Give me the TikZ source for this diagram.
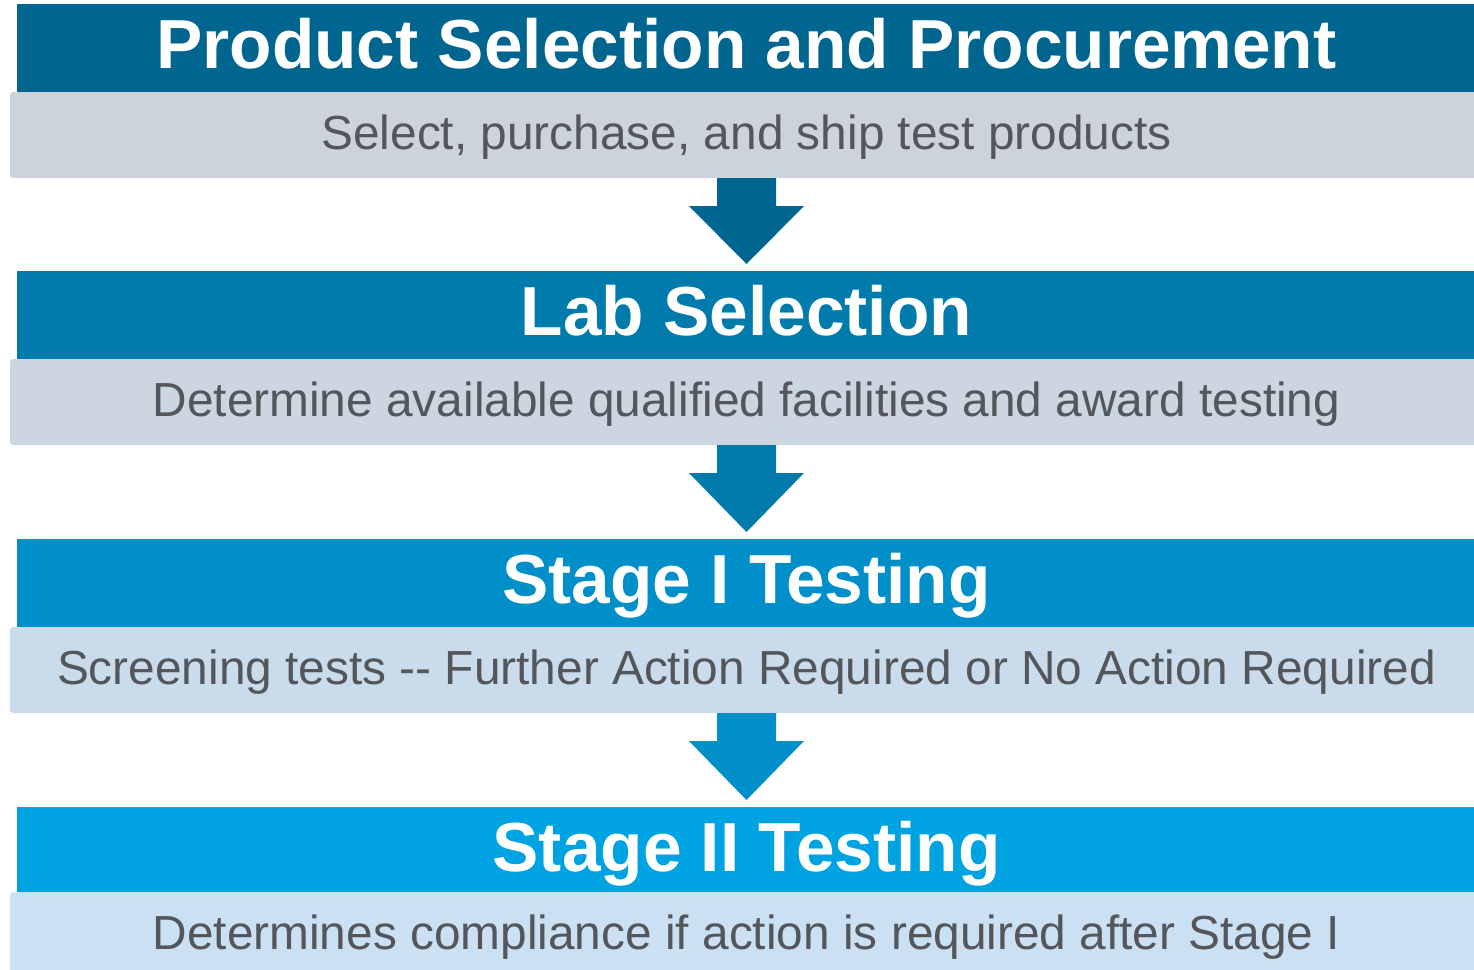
\documentclass[tikz,border=0pt]{standalone}
\usepackage{fontspec}
\setmainfont{Liberation Sans}
\usetikzlibrary{positioning}

\definecolor{headA}{RGB}{0,102,143}
\definecolor{headB}{RGB}{0,123,172}
\definecolor{headC}{RGB}{0,143,201}
\definecolor{headD}{RGB}{0,163,225}
\definecolor{subA}{RGB}{204,211,220}
\definecolor{subB}{RGB}{203,214,225}
\definecolor{subC}{RGB}{202,219,236}
\definecolor{subD}{RGB}{204,224,244}
\definecolor{subtext}{RGB}{83,86,90}

\tikzset{
	header/.style={fill=#1, text=white, inner xsep=0pt, inner ysep=0pt,
		outer sep=0pt, minimum width=729.5pt, text height=32pt, text depth=12pt,
		font=\fontsize{34.7}{40}\selectfont\bfseries},
	subbox/.style={fill=#1, text=subtext, inner xsep=0pt, inner ysep=0pt,
		outer sep=0pt, rounded corners=1.5pt, minimum width=736.5pt,
		text height=28.5pt, text depth=14.5pt,
		font=\fontsize{23.9}{28}\selectfont},
}

\begin{document}
\begin{tikzpicture}[x=0.5pt,y=-0.5pt]
\useasboundingbox (0,0) rectangle (1474,970);

% stage boxes
\node[header=headA] (procure) at (746.5,48) {Product Selection and Procurement};
\node[subbox=subA, below=0pt of procure] (procuresub) {Select, purchase, and ship test products};

\node[header=headB, below=46.5pt of procuresub] (lab) {Lab Selection};
\node[subbox=subB, below=0pt of lab] (labsub) {Determine available qualified facilities and award testing};

\node[header=headC, below=47pt of labsub] (stageone) {Stage I Testing};
\node[subbox=subC, below=0pt of stageone] (stageonesub) {Screening tests -{}- Further Action Required or No Action Required};

\node[header=headD, text depth=10.5pt, below=47pt of stageonesub] (stagetwo) {Stage II Testing};
\node[subbox=subD, below=0pt of stagetwo] (stagetwosub) {Determines compliance if action is required after Stage I};

% block arrows
\foreach \a/\b/\c in {procuresub/lab/headA, labsub/stageone/headB, stageonesub/stagetwo/headC}
{
	\fill[\c] ([xshift=-14.75pt]\a.south) |- ++(-14pt,-14pt)
		-- ([yshift=3.5pt]\b.north)
		-- ([xshift=28.75pt,yshift=-14pt]\a.south)
		-| ([xshift=14.75pt]\a.south) -- cycle;
}

\end{tikzpicture}
\end{document}
